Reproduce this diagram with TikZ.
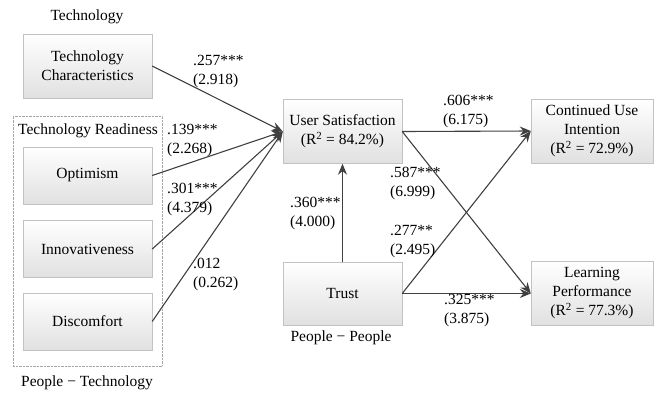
\documentclass[tikz,border=0pt]{standalone}
\usepackage{fontspec}
\setmainfont{Liberation Serif}
\usetikzlibrary{arrows.meta}

\newlength{\du}
\setlength{\du}{1pt}

\definecolor{linecolor}{rgb}{0.250000, 0.250000, 0.250000}
\definecolor{boxline}{rgb}{0.760000, 0.760000, 0.760000}
\definecolor{boxshade}{rgb}{0.880000, 0.880000, 0.880000}

\tikzset{
  varbox/.style={draw=boxline, top color=white, bottom color=boxshade, align=center, inner sep=2pt},
  groupbox/.style={draw=gray!70, densely dotted, inner sep=0pt},
  pathlabel/.style={anchor=west, align=left, inner sep=0pt},
  pathline/.style={draw=linecolor, line width=1.1pt, -{Stealth[length=11pt,width=9pt]}}
}

\begin{document}
\begin{tikzpicture}[font=\fontsize{15.5}{19}\selectfont]
\pgftransformxscale{1.000000}
\pgftransformyscale{-1.000000}
\useasboundingbox (0\du,0\du) rectangle (655\du,394\du);
% groups
\node[groupbox, minimum width=149\du, minimum height=250\du] (readiness) at (87.500000\du,241.000000\du){};
\node (techtitle) at (87.000000\du,17.000000\du){Technology};
\node (readytitle) at (88.000000\du,131.000000\du){Technology Readiness};
\node (pttitle) at (87.000000\du,383.000000\du){People − Technology};
\node (pptitle) at (341.000000\du,338.000000\du){People − People};
% variables
\node[varbox, minimum width=129\du, minimum height=64\du] (techchar) at (87.500000\du,66.000000\du){Technology\\Characteristics};
\node[varbox, minimum width=129\du, minimum height=57\du] (optimism) at (87.500000\du,175.500000\du){Optimism};
\node[varbox, minimum width=129\du, minimum height=57\du] (innov) at (87.500000\du,249.000000\du){Innovativeness};
\node[varbox, minimum width=129\du, minimum height=57\du] (discomfort) at (87.500000\du,321.500000\du){Discomfort};
\node[varbox, minimum width=119\du, minimum height=64\du] (usersat) at (342.500000\du,131.500000\du){User Satisfaction\\(R\textsuperscript{2} = 84.2\%)};
\node[varbox, minimum width=119\du, minimum height=63\du] (trust) at (342.500000\du,293.500000\du){Trust};
\node[varbox, minimum width=122\du, minimum height=64\du] (contuse) at (592.000000\du,131.000000\du){Continued Use\\Intention\\(R\textsuperscript{2} = 72.9\%)};
\node[varbox, minimum width=122\du, minimum height=64\du] (learnperf) at (592.000000\du,293.500000\du){Learning\\Performance\\(R\textsuperscript{2} = 77.3\%)};
% paths
\draw[pathline] (techchar.east)--(usersat.west);
\draw[pathline] (optimism.east)--(usersat.west);
\draw[pathline] (innov.east)--(usersat.west);
\draw[pathline] (discomfort.east)--(usersat.west);
\draw[pathline] (trust.north)--(usersat.south);
\draw[pathline] (usersat.east)--(contuse.west);
\draw[pathline] (usersat.east)--(learnperf.west);
\draw[pathline] (trust.east)--(contuse.west);
\draw[pathline] (trust.east)--(learnperf.west);
% coefficients
\node[pathlabel] (c257) at (193.000000\du,72.000000\du){.257***\\(2.918)};
\node[pathlabel] (c139) at (167.000000\du,141.000000\du){.139***\\(2.268)};
\node[pathlabel] (c301) at (167.000000\du,199.000000\du){.301***\\(4.379)};
\node[pathlabel] (c012) at (193.000000\du,274.000000\du){.012\\(0.262)};
\node[pathlabel] (c360) at (290.000000\du,213.000000\du){.360***\\(4.000)};
\node[pathlabel] (c606) at (443.000000\du,111.000000\du){.606***\\(6.175)};
\node[pathlabel] (c587) at (390.000000\du,183.000000\du){.587***\\(6.999)};
\node[pathlabel] (c277) at (390.000000\du,241.500000\du){.277**\\(2.495)};
\node[pathlabel] (c325) at (444.000000\du,311.000000\du){.325***\\(3.875)};
\end{tikzpicture}
\end{document}
